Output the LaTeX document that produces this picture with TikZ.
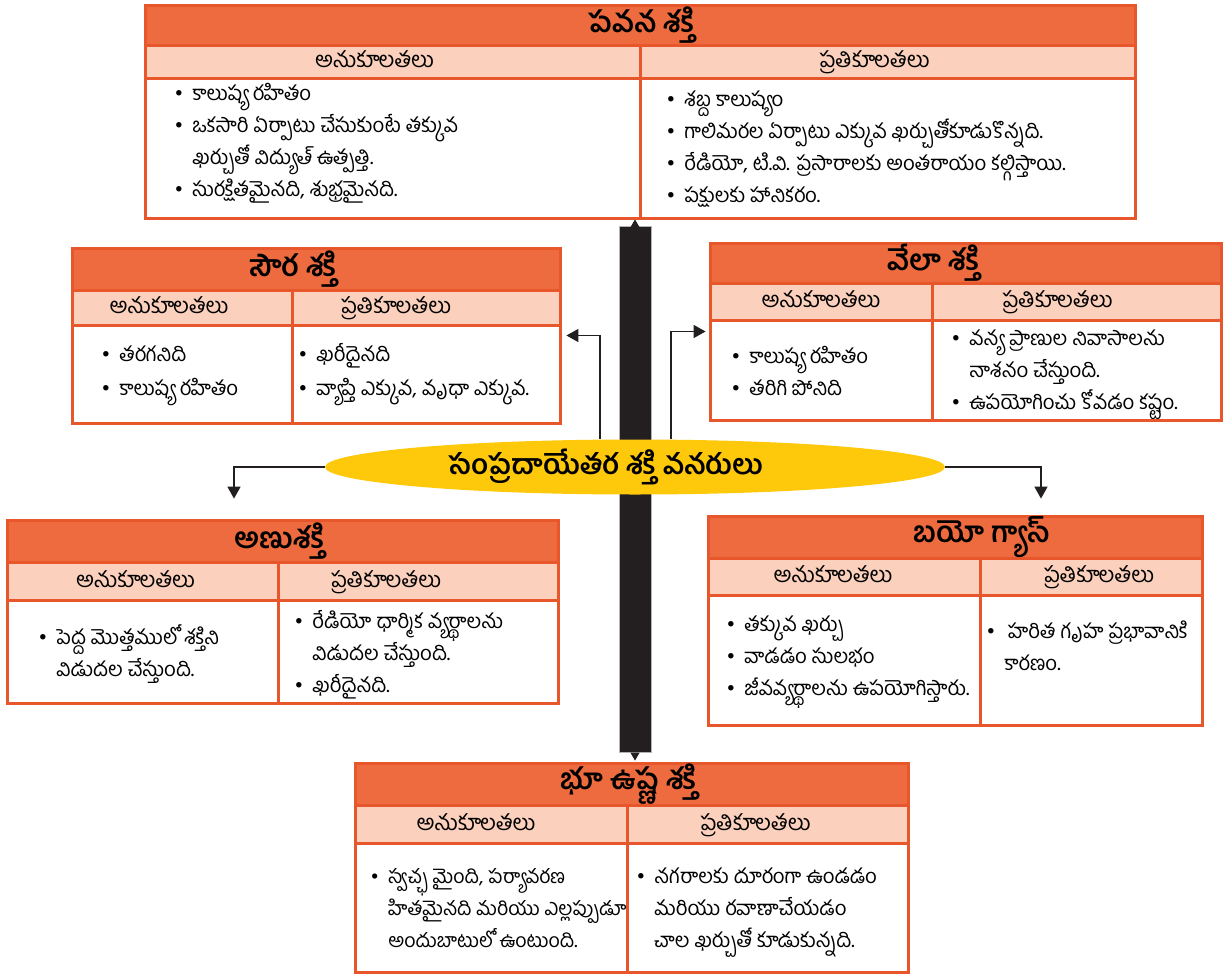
\documentclass[tikz,border=0pt]{standalone}
\usepackage{fontspec}
\setmainfont{Hind Guntur}[Script=Telugu]
\usetikzlibrary{positioning,fit,arrows.meta,shapes.geometric,backgrounds}
\definecolor{hdrorange}{RGB}{238,107,63}
\definecolor{boxedge}{RGB}{232,86,44}
\definecolor{peach}{RGB}{251,208,188}
\definecolor{ellyellow}{RGB}{255,201,11}
\definecolor{spinedark}{RGB}{35,31,32}
\tikzset{
  boxframe/.style={inner sep=0pt},
  hdrcell/.style={draw=boxedge,fill=hdrorange,line width=1.5pt,inner sep=0pt},
  subcell/.style={draw=boxedge,fill=peach,line width=1.5pt,inner sep=0pt},
  bodycell/.style={draw=boxedge,line width=1.5pt,inner sep=0pt},
  subtext/.style={inner sep=0pt,text height=6pt,text depth=0pt,font=\fontsize{11}{13}\selectfont},
  titletext/.style={inner sep=0pt,font=\fontsize{14.5}{16}\selectfont\bfseries},
  bodytext/.style={anchor=base west,inner sep=0pt,align=left,font=\fontsize{10.2}{16}\selectfont},
  centre/.style={ellipse,fill=ellyellow,inner sep=0pt,minimum width=310pt,minimum height=27.5pt,font=\fontsize{14}{16}\selectfont\bfseries},
  conn/.style={draw=spinedark,line width=0.7pt,-{Triangle[width=6.5pt,length=6pt]}},
  spinebar/.style={fill=spinedark,draw=gray!60,line width=0.4pt},
  spinetip/.style={draw=spinedark,line width=0.5pt,-{Triangle[width=4.5pt,length=4pt]}}
}
\newcommand\itm{\makebox[9pt][l]{\textbullet}}
\newcommand\ind{\hspace*{9pt}}

\begin{document}
\begin{tikzpicture}[x=0.5pt,y=-0.5pt]
\useasboundingbox (0,0) rectangle (1223,975);

% wind
\node[boxframe,fit={(145,5) (1135,218)}] (pavana) {};
\node[hdrcell,fit={(145,5) (1135,45)}] (pavana-h) {};
\node[subcell,fit={(145,45) (640,78)}] (pavana-a) {};
\node[subcell,fit={(640,45) (1135,78)}] (pavana-p) {};
\node[bodycell,fit={(145,78) (640,218)}] (pavana-ab) {};
\node[bodycell,fit={(640,78) (1135,218)}] (pavana-pb) {};
\node[titletext] (pavana-t) at (pavana-a.north east |- pavana-h) {పవన శక్తి};
\node[subtext] (pavana-as) at ([xshift=-9pt]pavana-a.center) {అనుకూలతలు};
\node[subtext] (pavana-ps) at ([xshift=-6.5pt]pavana-p.center) {ప్రతికూలతలు};
\node[bodytext] (pavana-at) at (174,196) {\itm కాలుష్య రహితం\\ \itm ఒకసారి ఏర్పాటు చేసుకుంటే తక్కువ\\ \ind ఖర్చుతో విద్యుత్ ఉత్పత్తి.\\ \itm సురక్షితమైనది,  శుభ్రమైనది.};
\node[bodytext] (pavana-pt) at (666,202) {\itm శబ్ద కాలుష్యం\\ \itm గాలిమరల ఏర్పాటు ఎక్కువ ఖర్చుతోకూడుకొన్నది.\\ \itm రేడియో, టి.వి. ప్రసారాలకు అంతరాయం కల్గిస్తాయి.\\ \itm పక్షులకు హానికరం.};

% solar
\node[boxframe,fit={(72,248) (560,423)}] (soura) {};
\node[hdrcell,fit={(72,248) (560,290)}] (soura-h) {};
\node[subcell,fit={(72,290) (292,325)}] (soura-a) {};
\node[subcell,fit={(292,290) (560,325)}] (soura-p) {};
\node[bodycell,fit={(72,325) (292,423)}] (soura-ab) {};
\node[bodycell,fit={(292,325) (560,423)}] (soura-pb) {};
\node[titletext] (soura-t) at (soura-a.north east |- soura-h) {సౌర శక్తి};
\node[subtext] (soura-as) at ([xshift=-6.5pt]soura-a.center) {అనుకూలతలు};
\node[subtext] (soura-ps) at ([xshift=-15pt]soura-p.center) {ప్రతికూలతలు};
\node[bodytext] (soura-at) at (101,395) {\itm తరగనిది\\[1pt] \itm కాలుష్య రహితం};
\node[bodytext] (soura-pt) at (298,395) {\itm ఖరీదైనది\\[1pt] \itm వ్యాప్తి ఎక్కువ, వృధా ఎక్కువ.};

% tidal
\node[boxframe,fit={(710,243) (1221,420)}] (vela) {};
\node[hdrcell,fit={(710,243) (1221,283)}] (vela-h) {};
\node[subcell,fit={(710,283) (932,320)}] (vela-a) {};
\node[subcell,fit={(932,283) (1221,320)}] (vela-p) {};
\node[bodycell,fit={(710,320) (932,420)}] (vela-ab) {};
\node[bodycell,fit={(932,320) (1221,420)}] (vela-pb) {};
\node[titletext] (vela-t) at (vela-a.north east |- vela-h) {వేలా శక్తి};
\node[subtext] (vela-as) at (vela-a.center) {అనుకూలతలు};
\node[subtext] (vela-ps) at ([xshift=-9.5pt]vela-p.center) {ప్రతికూలతలు};
\node[bodytext] (vela-at) at (731,395) {\itm కాలుష్య రహితం\\ \itm తరిగి పోనిది};
\node[bodytext] (vela-pt) at (951,409) {\itm వన్య ప్రాణుల నివాసాలను\\ \ind నాశనం చేస్తుంది.\\ \itm ఉపయోగించు కోవడం కష్టం.};

% nuclear
\node[boxframe,fit={(7,520) (558,703)}] (anu) {};
\node[hdrcell,fit={(7,520) (558,562)}] (anu-h) {};
\node[subcell,fit={(7,562) (278,600)}] (anu-a) {};
\node[subcell,fit={(278,562) (558,600)}] (anu-p) {};
\node[bodycell,fit={(7,600) (278,703)}] (anu-ab) {};
\node[bodycell,fit={(278,600) (558,703)}] (anu-pb) {};
\node[titletext] (anu-t) at (anu-a.north east |- anu-h) {అణుశక్తి};
\node[subtext] (anu-as) at ([xshift=-3.5pt]anu-a.center) {అనుకూలతలు};
\node[subtext] (anu-ps) at ([xshift=-16pt]anu-p.center) {ప్రతికూలతలు};
\node[bodytext] (anu-at) at (38,676) {\itm పెద్ద మొత్తములో శక్తిని\\ \ind విడుదల చేస్తుంది.};
\node[bodytext] (anu-pt) at (294,692) {\itm రేడియో ధార్మిక వ్యర్థాలను\\ \ind విడుదల చేస్తుంది.\\ \itm ఖరీదైనది.};

% biogas
\node[boxframe,fit={(708,516) (1202,725)}] (biogas) {};
\node[hdrcell,fit={(708,516) (1202,558)}] (biogas-h) {};
\node[subcell,fit={(708,558) (980,595)}] (biogas-a) {};
\node[subcell,fit={(980,558) (1202,595)}] (biogas-p) {};
\node[bodycell,fit={(708,595) (980,725)}] (biogas-ab) {};
\node[bodycell,fit={(980,595) (1202,725)}] (biogas-pb) {};
\node[titletext] (biogas-t) at (biogas-a.north east |- biogas-h) {బయో గ్యాస్};
\node[subtext] (biogas-as) at ([xshift=-5.5pt]biogas-a.center) {అనుకూలతలు};
\node[subtext] (biogas-ps) at ([xshift=4pt]biogas-p.center) {ప్రతికూలతలు};
\node[bodytext] (biogas-at) at (726,695) {\itm తక్కువ ఖర్చు\\ \itm వాడడం సులభం\\ \itm జీవవ్యర్థాలను ఉపయోగిస్తారు.};
\node[bodytext] (biogas-pt) at (986,670) {\itm \,హరిత గృహ ప్రభావానికి\\ \ind కారణం.};

% geothermal
\node[boxframe,fit={(355,763) (908,972)}] (bhu) {};
\node[hdrcell,fit={(355,763) (908,805)}] (bhu-h) {};
\node[subcell,fit={(355,805) (627,843)}] (bhu-a) {};
\node[subcell,fit={(627,805) (908,843)}] (bhu-p) {};
\node[bodycell,fit={(355,843) (627,972)}] (bhu-ab) {};
\node[bodycell,fit={(627,843) (908,972)}] (bhu-pb) {};
\node[titletext] (bhu-t) at (bhu-a.north east |- bhu-h) {భూ ఉష్ణ శక్తి};
\node[subtext] (bhu-as) at ([xshift=-7.5pt]bhu-a.center) {అనుకూలతలు};
\node[subtext] (bhu-ps) at ([xshift=-6pt]bhu-p.center) {ప్రతికూలతలు};
\node[bodytext,font=\fontsize{9.8}{16}\selectfont] (bhu-at) at (370,947) {\itm స్వచ్ఛ మైంది, పర్యావరణ\\ \ind హితమైనది మరియు ఎల్లప్పుడూ\\ \ind అందుబాటులో ఉంటుంది.};
\node[bodytext] (bhu-pt) at (636,947) {\itm నగరాలకు దూరంగా ఉండడం\\ \ind మరియు రవాణాచేయడం\\ \ind చాల ఖర్చుతో కూడుకున్నది.};

\node[centre] (ell) at (635,467) {సంప్రదాయేతర శక్తి వనరులు\hspace*{29pt}};

\begin{scope}[on background layer]
\draw[spinebar] ([xshift=-8pt,yshift=-4pt]ell |- pavana.south) rectangle ([xshift=8pt,yshift=5pt]ell |- bhu.north);
\draw[spinetip] ([yshift=-4pt]ell |- pavana.south) -- ([yshift=-0.5pt]ell |- pavana.south);
\draw[spinetip] ([yshift=5pt]ell |- bhu.north) -- ([yshift=1pt]ell |- bhu.north);
\draw[conn,shorten >=3pt] ([xshift=-17.5pt]ell.north) |- (soura.east);
\draw[conn,shorten >=2pt] ([xshift=18pt]ell.north) |- (vela.west);
\draw[conn,shorten >=10.5pt] (ell.west) -| ([xshift=-24.25pt]anu.north);
\draw[conn,shorten >=8.5pt] (ell.east) -| ([xshift=43pt]biogas.north);
\end{scope}
\end{tikzpicture}
\end{document}
